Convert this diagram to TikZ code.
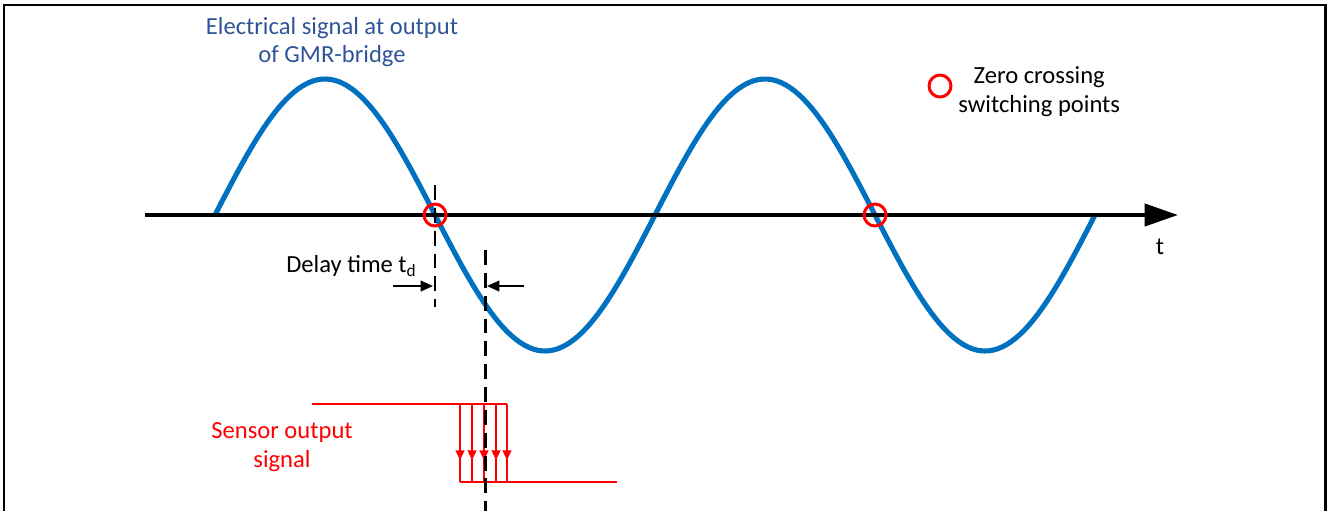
\documentclass[tikz,border=0pt]{standalone}
\usepackage{fontspec}
\setmainfont{Carlito}
\usetikzlibrary{arrows.meta}
\definecolor{sigblue}{HTML}{0070C0}
\definecolor{titleblue}{HTML}{2F5597}
\definecolor{outred}{HTML}{FF0000}

\begin{document}
\begin{tikzpicture}[x=0.02cm, y=-0.02cm,
    every node/.style={font=\fontsize{14}{16.4}\selectfont, align=center, inner sep=0pt},
    frame/.style={line width=1.7pt},
    axis/.style={line width=2.5pt, -{Triangle[length=19pt,width=12.5pt]}},
    sig/.style={draw=sigblue, line width=2.9pt},
    zc/.style={circle, draw=outred, line width=1.7pt, minimum size=12.5pt},
    dline/.style={line width=1.7pt, dash pattern=on 8.5pt off 4.5pt},
    tdarr/.style={line width=1.1pt, -{Triangle[length=7pt,width=6pt]}},
    outsig/.style={draw=outred, line width=1.1pt},
    outarr/.style={outsig, -{Triangle[length=5.5pt,width=5pt]}}
  ]
  \useasboundingbox (0,0) rectangle (1328,511);
  \draw[frame] (4,511) -- (4,5) -- (1325,5) -- (1325,511);

  % GMR bridge signal and time axis
  \draw[sig] plot[domain=215:1095, samples=200] ({\x},{215-136*sin(0.8181818*(\x-215))});
  \coordinate (ax0) at (145,215);
  \coordinate (ax1) at (1178,215);
  \draw[axis] (ax0) -- (ax1);
  \node (tlbl) at (1160,247) {t};
  \node[text=titleblue] (title) at (332,42) {Electrical signal at output\\of GMR-bridge};

  % sensor output
  \coordinate (hi0) at (312,404);
  \coordinate (hi1) at (507,404);
  \coordinate (lo0) at (460,482);
  \coordinate (lo1) at (617,482);
  \draw[outsig] (hi0) -- (hi1);
  \draw[outsig] (lo0) -- (lo1);
  \foreach \x in {460,472,484,496,507} {
    \draw[outsig] (\x,404) -- (\x,482);
    \draw[outarr] (\x,404) -- (\x,460);
  }
  \node[text=outred] (sens) at (282,447) {Sensor output\\signal};

  % delay time
  \coordinate (d1top) at (435,185);
  \coordinate (d1bot) at (435,307);
  \coordinate (d2top) at (485,250);
  \coordinate (d2bot) at (485,511);
  \draw[dline] (d1top) -- (d1bot);
  \draw[dline] (d2top) -- (d2bot);
  \coordinate (a1) at (393,286);
  \coordinate (a1e) at (433,286);
  \coordinate (a2) at (524,286);
  \coordinate (a2e) at (487,286);
  \draw[tdarr] (a1) -- (a1e);
  \draw[tdarr] (a2) -- (a2e);
  \node[anchor=east] (delay) at (417,266) {Delay time t\textsubscript{d}};

  % zero crossings
  \node[zc] (zc1) at (435,215) {};
  \node[zc] (zc2) at (875,215) {};
  \node[zc] (zcl) at (940,86) {};
  \node[anchor=west] (zclbl) at (958,92) {Zero crossing\\switching points};
\end{tikzpicture}
\end{document}
